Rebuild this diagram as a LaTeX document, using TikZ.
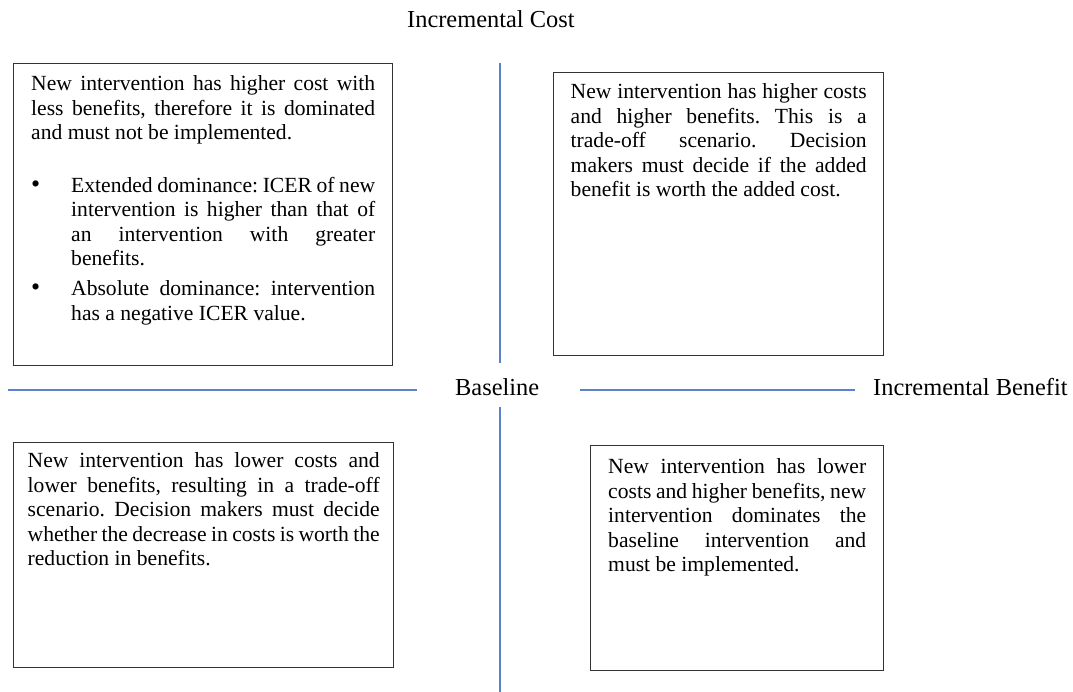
\documentclass[tikz,border=0pt]{standalone}
\usepackage{fontspec}
\setmainfont{Liberation Serif}[WordSpace={1,1.5,1.8}]
\usepackage{tikz}
\usetikzlibrary{positioning}
\definecolor{axisblue}{RGB}{92,130,204}
\frenchspacing
\newcommand{\qtext}[4]{\begin{minipage}[t][#2][t]{#1}\rule{0pt}{#3}#4\end{minipage}}
\newcommand{\qitem}[1]{\par{\hangindent=40pt\hangafter=1\noindent\makebox[40pt][l]{\scalebox{1.2}{\textbullet}}#1\par}}

\begin{document}
\begin{tikzpicture}[x=1pt,y=-1pt,
  quad/.style={draw=black!80,line width=1.4pt,anchor=north west,inner xsep=0pt,inner ysep=0pt,
    font=\fontsize{21.6}{24.5}\selectfont},
  lab/.style={inner sep=0pt,anchor=base west,font=\fontsize{24.4}{28}\selectfont},
  axis/.style={draw=axisblue,line width=1.8pt}]
  \useasboundingbox (0,0) rectangle (1073,692);
  \coordinate (costtop) at (500,63);
  \coordinate (costlow) at (500,363);
  \coordinate (costneg) at (500,407);
  \coordinate (costbot) at (500,692);
  \coordinate (benleft) at (8,390);
  \coordinate (benmidl) at (417,390);
  \coordinate (benmidr) at (580,390);
  \coordinate (benright) at (855,390);
  \draw[axis] (costtop) -- (costlow);
  \draw[axis] (costneg) -- (costbot);
  \draw[axis] (benleft) -- (benmidl);
  \draw[axis] (benmidr) -- (benright);
  \node[lab] (cost) at (407,28) {Incremental Cost};
  \node[lab] (base) at (455,395) {Baseline};
  \node[lab] (benefit) at (873,395) {Incremental Benefit};
  \node[quad,minimum width=379pt] (nw) at (13,63) {\qtext{344pt}{302pt}{27pt}{%
    New intervention has higher cost with\linebreak less benefits, therefore it is dominated\linebreak
    and must not be implemented.\par\vspace{28pt}
    \qitem{Extended dominance: ICER of new\linebreak intervention is higher than that of\linebreak
      an intervention with greater\linebreak benefits.}\vspace{5.5pt}
    \qitem{Absolute dominance: intervention\linebreak has a negative ICER value.}}};
  \node[quad,minimum width=330pt] (ne) at (553,72) {\qtext{296pt}{283pt}{26pt}{%
    New intervention has higher costs\linebreak and higher benefits. This is a\linebreak
    trade-off scenario. Decision\linebreak makers must decide if the added\linebreak
    benefit is worth the added cost.}};
  \node[quad,minimum width=380pt] (sw) at (13,442) {\qtext{352pt}{225pt}{25pt}{%
    New intervention has lower costs and\linebreak lower benefits, resulting in a trade-off\linebreak
    scenario. Decision makers must decide\linebreak whether the decrease in costs is worth the\linebreak
    reduction in benefits.}};
  \node[quad,minimum width=293pt] (se) at (590,445) {\qtext{258pt}{225pt}{28pt}{%
    New intervention has lower\linebreak costs and higher benefits, new\linebreak
    intervention dominates the\linebreak baseline intervention and\linebreak
    must be implemented.}};
\end{tikzpicture}
\end{document}
